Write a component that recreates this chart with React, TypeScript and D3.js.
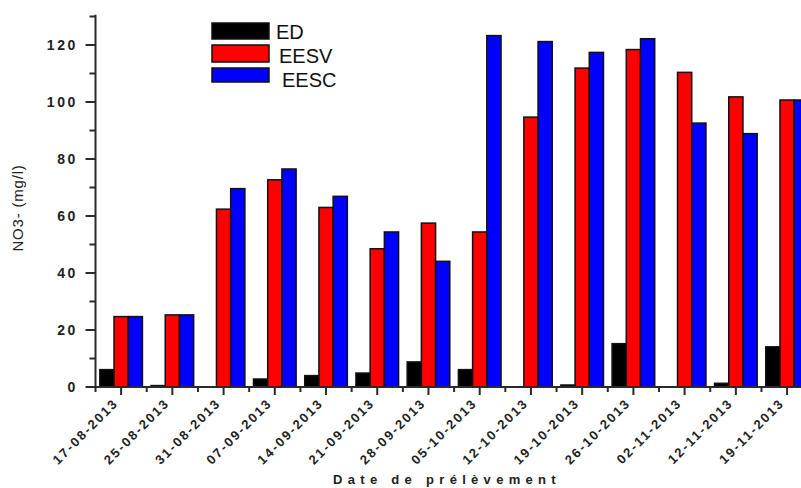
import React from "react";
import * as d3 from "d3";

// Sampling dates and nitrate concentrations (mg/l) per water type
const dates = [
  "17-08-2013", "25-08-2013", "31-08-2013", "07-09-2013", "14-09-2013",
  "21-09-2013", "28-09-2013", "05-10-2013", "12-10-2013", "19-10-2013",
  "26-10-2013", "02-11-2013", "12-11-2013", "19-11-2013",
];
const seriesNames = ["ED", "EESV", "EESC"];
const edValues = [6.1, 0.5, 0, 2.8, 4.0, 4.9, 8.8, 6.1, 0, 0.7, 15.2, 0, 1.3, 14.1];
const eesvValues = [24.7, 25.3, 62.4, 72.7, 63.0, 48.5, 57.5, 54.4, 94.7, 111.9, 118.4, 110.4, 101.8, 100.7];
const eescValues = [24.7, 25.3, 69.6, 76.5, 66.9, 54.4, 44.1, 123.3, 121.2, 117.4, 122.2, 92.6, 88.9, 100.7];
const seriesColors = ["#000000", "#ff0000", "#0000ff"];
const yMajorTicks = [0, 20, 40, 60, 80, 100, 120];
const yMinorTicks = [10, 30, 50, 70, 90, 110, 130];

const W = 801;
const H = 488;

export default function App() {
  const values = [edValues, eesvValues, eescValues];

  const x = d3.scaleBand<string>().domain(dates).range([95.5, 812.7]).padding(0);
  const xSub = d3
    .scaleBand<string>()
    .domain(seriesNames)
    .range([4.3, x.bandwidth() - 4.3])
    .padding(0);
  const y = d3.scaleLinear().domain([0, 120]).range([387, 45]);

  const axisX = 95.5;
  const baseY = y(0);
  const axisColor = "#2a2a2a";
  const font = "'Liberation Sans', Arial, sans-serif";

  const boundaries = dates.map((d) => x(d)!);

  return (
    <svg
      width={W}
      height={H}
      style={{ position: "absolute", left: 0, top: 0, background: "#fff" }}
      fontFamily={font}
    >
      {/* bars */}
      {dates.map((d, i) => (
        <g key={d} transform={`translate(${x(d)},0)`}>
          {seriesNames.map((s, j) => {
            const v = values[j][i];
            if (v <= 0) return null;
            return (
              <rect
                key={s}
                x={xSub(s)}
                y={y(v)}
                width={xSub.bandwidth()}
                height={baseY - y(v)}
                fill={seriesColors[j]}
                stroke="#111"
                strokeWidth={1.5}
              />
            );
          })}
        </g>
      ))}

      {/* y axis */}
      <line x1={axisX} x2={axisX} y1={y(130.6)} y2={baseY} stroke={axisColor} strokeWidth={2} />
      {yMajorTicks.map((t) => (
        <g key={t}>
          <line x1={axisX - 10} x2={axisX} y1={y(t)} y2={y(t)} stroke={axisColor} strokeWidth={2} />
          <text
            x={78}
            y={y(t)}
            dy="0.36em"
            textAnchor="end"
            fontSize={14}
            fontWeight="bold"
            letterSpacing={2.6}
            fill="#222"
          >
            {t}
          </text>
        </g>
      ))}
      {yMinorTicks.map((t) => (
        <line key={t} x1={axisX - 6} x2={axisX} y1={y(t)} y2={y(t)} stroke={axisColor} strokeWidth={2} />
      ))}
      <text
        transform={`translate(23,208) rotate(-90)`}
        textAnchor="middle"
        fontSize={15}
        letterSpacing={0.8}
        fill="#222"
      >
        NO3- (mg/l)
      </text>

      {/* x axis */}
      <line x1={axisX} x2={W} y1={baseY} y2={baseY} stroke={axisColor} strokeWidth={2} />
      {boundaries.map((b, i) => (
        <line key={i} x1={b} x2={b} y1={baseY} y2={baseY + 5} stroke={axisColor} strokeWidth={2} />
      ))}
      {dates.map((d) => {
        const cx = x(d)! + x.bandwidth() / 2;
        return (
          <g key={d}>
            <line x1={cx} x2={cx} y1={baseY} y2={baseY + 8} stroke={axisColor} strokeWidth={2} />
            <text
              transform={`translate(${cx - 2},404) rotate(-45)`}
              textAnchor="end"
              fontSize={13}
              fontWeight="bold"
              letterSpacing={2}
              fill="#222"
            >
              {d}
            </text>
          </g>
        );
      })}
      <text
        x={447}
        y={484}
        textAnchor="middle"
        fontSize={13}
        fontWeight="bold"
        letterSpacing={5.3}
        fill="#222"
      >
        Date de prélèvement
      </text>

      {/* legend */}
      {seriesNames.map((s, j) => {
        const ly = [23, 45, 68][j];
        const lh = [16, 17, 14][j];
        return (
          <g key={s}>
            <rect x={212} y={ly} width={57} height={lh} fill={seriesColors[j]} stroke="#111" strokeWidth={1.5} />
            <text x={276 + j * 3} y={[39, 63, 87][j]} fontSize={20} fill="#111">
              {s}
            </text>
          </g>
        );
      })}
    </svg>
  );
}
